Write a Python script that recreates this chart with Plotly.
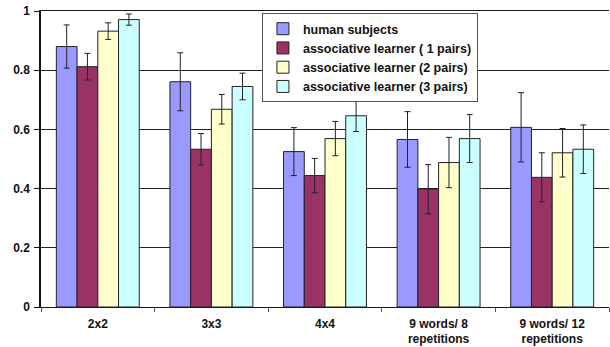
import plotly.graph_objects as go

categories = ["2x2", "3x3", "4x4", "9 words/ 8<br>repetitions", "9 words/ 12<br>repetitions"]
series_names = ["human subjects", "associative learner ( 1 pairs)",
                "associative learner (2 pairs)", "associative learner (3 pairs)"]
human = [0.880, 0.761, 0.525, 0.566, 0.607]
human_err = [0.073, 0.098, 0.081, 0.094, 0.117]
assoc1 = [0.812, 0.533, 0.444, 0.398, 0.438]
assoc1_err = [0.045, 0.053, 0.058, 0.083, 0.083]
assoc2 = [0.932, 0.668, 0.569, 0.488, 0.521]
assoc2_err = [0.028, 0.050, 0.058, 0.085, 0.082]
assoc3 = [0.971, 0.745, 0.646, 0.569, 0.533]
assoc3_err = [0.019, 0.045, 0.053, 0.081, 0.082]
colors = ["#9999FF", "#993366", "#FFFFCC", "#CCFFFF"]

values = [human, assoc1, assoc2, assoc3]
errors = [human_err, assoc1_err, assoc2_err, assoc3_err]

fig = go.Figure()
for name, v, e, c in zip(series_names, values, errors, colors):
    fig.add_trace(go.Bar(
        x=categories, y=v, name=name,
        marker=dict(color=c, line=dict(color="#222222", width=1)),
        error_y=dict(type="data", array=e, visible=True, color="#222222",
                     thickness=1, width=3),
    ))

font_family = "Liberation Sans, Arial, sans-serif"
fig.update_layout(
    width=610, height=347,
    margin=dict(l=41, r=1, t=11, b=40, autoexpand=False),
    paper_bgcolor="white", plot_bgcolor="white",
    barmode="group", bargap=0.27, bargroupgap=0,
    font=dict(family=font_family, size=12, color="#111111"),
    showlegend=True,
    legend=dict(
        x=0.389, y=0.993, xanchor="left", yanchor="top",
        bgcolor="white", bordercolor="#555555", borderwidth=1,
        font=dict(family=font_family, size=12.5, color="#111111", weight="bold"),
        tracegroupgap=0, itemwidth=30,
    ),
    xaxis=dict(
        showline=True, linecolor="#1a1a1a", linewidth=1.3, mirror=True,
        ticks="outside", tickson="boundaries", ticklen=4, tickcolor="#555555",
        tickfont=dict(family=font_family, size=12, color="#111111", weight="bold"),
        ticklabelstandoff=5,
        showgrid=False, automargin=False,
    ),
    yaxis=dict(
        range=[0, 1.0], tickvals=[0, 0.2, 0.4, 0.6, 0.8, 1],
        ticktext=["0", "0.2", "0.4", "0.6", "0.8", "1"],
        showline=True, linecolor="#111111", linewidth=1.5,
        ticks="outside", ticklen=5, tickcolor="#111111",
        tickfont=dict(family=font_family, size=12, color="#111111", weight="bold"),
        ticklabelstandoff=2,
        showgrid=True, gridcolor="#222222", gridwidth=1,
        zeroline=False, automargin=False,
    ),
)

fig.write_html("out.html", config={"displayModeBar": False},
               post_script="document.body.style.margin='0';")
